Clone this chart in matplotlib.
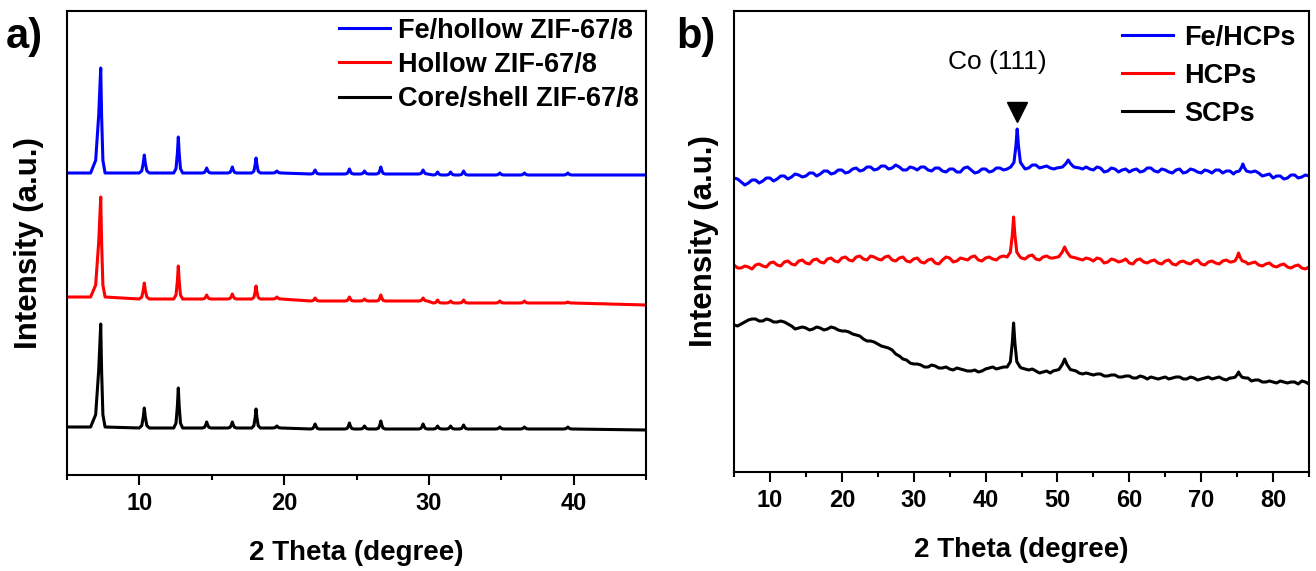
import numpy as np
import matplotlib
matplotlib.use("Agg")
import matplotlib.pyplot as plt
from matplotlib.ticker import MultipleLocator

plt.rcParams['font.family'] = ['Liberation Sans', 'DejaVu Sans']
plt.rcParams['font.weight'] = 'bold'

# ---------------- panel a: ZIF-67/8 precursors ----------------
a_labels = ["Fe/hollow ZIF-67/8", "Hollow ZIF-67/8", "Core/shell ZIF-67/8"]
a_colors = ["#0000ff", "#ff0000", "#000000"]

# baseline (offset intensity) at anchor angles
a_base_x = [5, 15, 25, 35, 45]
a_base_fe = [302, 302, 301, 300, 300]
a_base_hollow = [178, 176, 174, 172, 170]
a_base_core = [48, 47, 46, 46, 45]

# reflection positions (2 theta) and half widths at the base
a_peak_pos = [7.33, 10.34, 12.69, 14.65, 16.42, 18.06, 19.5, 22.14, 24.51,
              25.55, 26.68, 29.6, 30.6, 31.5, 32.4, 34.9, 36.6, 39.6]
a_hw_left = [0.7, 0.35, 0.32, 0.3, 0.3, 0.3, 0.3, 0.3, 0.3,
             0.3, 0.3, 0.3, 0.3, 0.3, 0.3, 0.3, 0.3, 0.3]
a_hw_right = [0.3, 0.35, 0.3, 0.3, 0.3, 0.3, 0.3, 0.3, 0.3,
              0.3, 0.3, 0.3, 0.3, 0.3, 0.3, 0.3, 0.3, 0.3]
a_h_fe = [105, 18, 36, 5, 6, 15, 2, 4, 5, 3, 7, 4, 3, 3, 4, 2, 2, 2]
a_h_hollow = [100, 16, 33, 4, 5, 13, 2, 3, 4, 2, 6, 3, 3, 2, 3, 2, 2, 1]
a_h_core = [103, 20, 40, 6, 6, 19, 2, 5, 6, 3, 8, 5, 3, 3, 4, 2, 2, 2]

# ---------------- panel b: carbonised particles ----------------
b_labels = ["Fe/HCPs", "HCPs", "SCPs"]
b_colors = ["#0000ff", "#ff0000", "#000000"]
b_x = list(range(5, 86))                  # whole degrees
b_x_half = [i + 0.5 for i in range(5, 85)]  # half degrees

b_fe = [294, 290, 289, 292, 291, 294, 293, 296, 295, 297,
        296, 299, 298, 301, 299, 302, 300, 304, 302, 305,
        303, 306, 304, 305, 302, 304, 305, 302, 304, 301,
        303, 300, 304, 302, 300, 303, 301, 304, 303, 305,
        306, 304, 307, 305, 304, 305, 305, 305, 304, 305,
        302, 304, 301, 303, 302, 300, 303, 301, 304, 300,
        302, 299, 303, 300, 302, 299, 301, 302, 299, 301,
        301, 300, 300, 299, 297, 294, 296, 294, 297, 295, 296]
b_fe_half = [293, 287, 292, 289, 294, 291, 296, 293, 298, 295,
             299, 296, 301, 298, 302, 299, 303, 301, 305, 302,
             306, 303, 307, 302, 305, 302, 305, 301, 304, 300,
             303, 300, 305, 299, 303, 300, 304, 302, 306, 305,
             303, 307, 304, 306, 303, 306, 304, 306, 303, 303,
             305, 300, 304, 300, 303, 302, 300, 304, 301, 303,
             300, 302, 299, 303, 300, 302, 299, 302, 301, 298,
             302, 298, 301, 296, 298, 296, 293, 297, 294, 297]

b_hcps = [207, 204, 205, 207, 206, 209, 207, 210, 208, 211,
          209, 212, 210, 213, 211, 214, 212, 215, 213, 216,
          213, 215, 212, 214, 211, 213, 210, 212, 209, 212,
          214, 211, 213, 215, 212, 214, 213, 215, 214, 215,
          214, 216, 213, 215, 214, 213, 214, 215, 213, 214,
          211, 213, 210, 212, 211, 209, 212, 210, 211, 209,
          211, 208, 210, 209, 211, 208, 210, 209, 211, 210,
          210, 211, 209, 207, 208, 206, 207, 205, 206, 204, 205]
b_hcps_half = [204, 206, 203, 208, 205, 210, 206, 211, 207, 212,
               208, 213, 209, 214, 210, 215, 211, 216, 212, 215,
               212, 216, 211, 215, 210, 214, 209, 213, 208, 215,
               210, 214, 212, 216, 211, 215, 212, 216, 213, 216,
               213, 217, 212, 216, 212, 215, 213, 216, 212, 213,
               214, 209, 213, 210, 213, 208, 213, 209, 212, 208,
               212, 207, 211, 208, 212, 207, 211, 208, 212, 209,
               212, 208, 210, 206, 209, 205, 208, 204, 207, 203]

b_scps = [147, 148, 152, 153, 151, 152, 150, 150, 146, 144,
          144, 143, 144, 143, 144, 141, 140, 137, 133, 131,
          128, 125, 122, 116, 112, 108, 107, 105, 106, 104,
          103, 104, 102, 101, 100, 103, 105, 104, 106, 105,
          104, 102, 101, 100, 99, 100, 101, 100, 99, 99,
          97, 98, 96, 97, 95, 96, 94, 95, 95, 93,
          95, 94, 95, 93, 94, 93, 95, 94, 93, 94,
          94, 93, 91, 92, 90, 90, 91, 89, 90, 91, 88]
b_scps_half = [146, 150, 153, 151, 153, 150, 151, 148, 143, 145,
               142, 145, 142, 145, 142, 141, 138, 136, 131, 130,
               126, 124, 118, 113, 109, 108, 105, 107, 104, 105,
               102, 103, 101, 102, 101, 104, 103, 105, 104, 104,
               103, 103, 99, 101, 98, 101, 99, 101, 98, 98,
               98, 96, 97, 95, 96, 94, 96, 93, 94, 94,
               93, 95, 93, 95, 92, 94, 93, 95, 92, 93,
               92, 94, 92, 90, 91, 89, 90, 90, 88, 90]

b_pos_fe = [44.4, 51.5, 75.8]
b_pos_hcps = [43.9, 51.0, 75.2]
b_pos_scps = [43.9, 51.0, 75.2]
b_hw = [0.9, 1.6, 1.0]
b_h_fe = [38, 8, 8]
b_h_hcps = [40, 11, 9]
b_h_scps = [44, 12, 6]

co111_pos = 44.4
co111_marker_y = 360
co111_text_x = 41.6
co111_text_y = 410

# vertex template of a single reflection (offset in half widths, fraction of height)
PEAK_DX = [-1.0, -0.5, -0.2, 0.0, 0.2, 0.5, 1.0]
PEAK_FRAC = [0.0, 0.12, 0.55, 1.0, 0.55, 0.12, 0.0]


def build_trace(grid, base, pos, heights, hw_l, hw_r):
    order = np.argsort(grid)
    grid = np.asarray(grid, float)[order]
    base = np.asarray(base, float)[order]
    covered = np.zeros(len(grid), bool)
    pts = []
    for p, h, wl, wr in zip(pos, heights, hw_l, hw_r):
        covered |= (grid >= p - wl) & (grid <= p + wr)
        b = base[np.argmin(np.abs(grid - p))]
        for dx, f in zip(PEAK_DX, PEAK_FRAC):
            w = wl if dx < 0 else wr
            pts.append((p + dx * w, b + f * h))
    pts += [(x, y) for x, y, c in zip(grid, base, covered) if not c]
    pts.sort()
    xs, ys = zip(*pts)
    return np.array(xs), np.array(ys)


fig = plt.figure(figsize=(13.16, 5.71), dpi=100)
ax_a = fig.add_axes([67 / 1316, 96 / 571, 579 / 1316, 464 / 571])
ax_b = fig.add_axes([734 / 1316, 99 / 571, 575 / 1316, 461 / 571])

LW = 2.2
for base, h, lab, col in zip([a_base_fe, a_base_hollow, a_base_core],
                             [a_h_fe, a_h_hollow, a_h_core], a_labels, a_colors):
    xs, ys = build_trace(a_base_x, base, a_peak_pos, h, a_hw_left, a_hw_right)
    ax_a.plot(xs, ys, color=col, lw=LW, label=lab, solid_joinstyle='round')

for full, half, pos, h, lab, col in zip([b_fe, b_hcps, b_scps],
                                        [b_fe_half, b_hcps_half, b_scps_half],
                                        [b_pos_fe, b_pos_hcps, b_pos_scps],
                                        [b_h_fe, b_h_hcps, b_h_scps], b_labels, b_colors):
    xs, ys = build_trace(b_x + b_x_half, full + half, pos, h, b_hw, b_hw)
    ax_b.plot(xs, ys, color=col, lw=LW, label=lab, solid_joinstyle='round')

ax_b.plot([co111_pos], [co111_marker_y], marker='v', ms=14, color='black', ls='none')
ax_b.text(co111_text_x, co111_text_y, "Co (111)", ha='center', va='center',
          fontsize=19, fontweight='normal')

for ax, xlim in [(ax_a, (5, 45)), (ax_b, (5, 85))]:
    ax.set_xlim(*xlim)
    ax.xaxis.set_major_locator(MultipleLocator(10))
    ax.xaxis.set_minor_locator(MultipleLocator(5))
    ax.set_yticks([])
    ax.tick_params(axis='x', which='major', direction='out', length=7, width=1.5,
                   labelsize=17, pad=5)
    ax.tick_params(axis='x', which='minor', direction='out', length=3.6, width=1.5)
    for s in ax.spines.values():
        s.set_linewidth(1.5)
    ax.set_xlabel("2 Theta (degree)", fontsize=20, fontweight='bold', labelpad=18)
    ax.set_ylabel("Intensity (a.u.)", fontsize=22.5, fontweight='bold')

ax_a.yaxis.set_label_coords(-0.040, 0.5)
ax_b.yaxis.set_label_coords(-0.026, 0.5)

ax_a.set_ylim(0, 464)
ax_b.set_ylim(0, 461)

ax_a.legend(loc='upper right', bbox_to_anchor=(1.0, 1.0), frameon=False,
            fontsize=19.5, handlelength=1.9, handletextpad=0.3, labelspacing=0.3,
            borderaxespad=0.0, borderpad=0.25)
ax_b.legend(loc='upper right', bbox_to_anchor=(1.0, 1.0), frameon=False,
            fontsize=19.5, handlelength=1.9, handletextpad=0.4, labelspacing=0.45,
            borderaxespad=0.3, borderpad=0.2)

fig.text(0.004, 0.935, "a)", fontsize=30, fontweight='bold', va='center', ha='left')
fig.text(0.514, 0.935, "b)", fontsize=30, fontweight='bold', va='center', ha='left')

fig.savefig("out.png", dpi=100)
